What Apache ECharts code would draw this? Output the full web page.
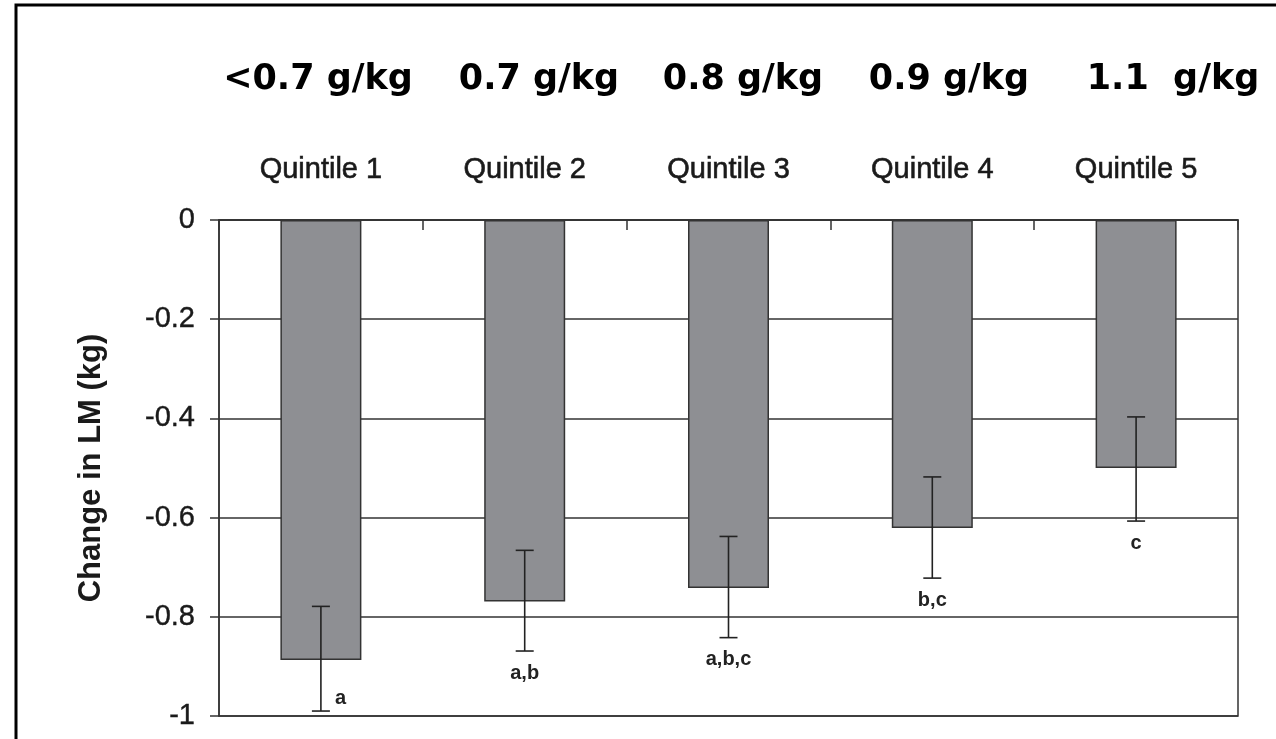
<!DOCTYPE html>
<html><head><meta charset="utf-8">
<script src="https://cdn.jsdelivr.net/npm/echarts@6/dist/echarts.min.js"></script>
<style>html,body{margin:0;padding:0;background:#fff}#c{width:1276px;height:739px}</style>
</head><body><div id="c"></div>
<script>
// ---- data ----
const quintiles = ['Quintile 1', 'Quintile 2', 'Quintile 3', 'Quintile 4', 'Quintile 5'];
const doseLabels = ['<0.7 g/kg', '0.7 g/kg', '0.8 g/kg', '0.9 g/kg', '1.1  g/kg'];
const meanChange = [-0.887, -0.769, -0.742, -0.621, -0.500];
const errorUpper = [-0.779, -0.666, -0.638, -0.518, -0.397];
const errorLower = [-0.990, -0.869, -0.842, -0.722, -0.607];
const sigLetters = ['a', 'a,b', 'a,b,c', 'b,c', 'c'];

// ---- layout (not data) ----
const doseLabelX = [318, 539, 743, 949, 1173];
const INK = '#1a1a1a';
const LINE = '#333333';

const chart = echarts.init(document.getElementById('c'), null, {renderer: 'canvas'});

const errData = quintiles.map((q, i) => [i, errorUpper[i], errorLower[i]]);

const option = {
  animation: false,
  backgroundColor: '#ffffff',
  grid: {left: 219, right: 38, top: 220, bottom: 23, show: true, borderColor: LINE, borderWidth: 1.5, backgroundColor: 'transparent'},
  xAxis: {
    type: 'category', data: quintiles, position: 'top', boundaryGap: true,
    axisLine: {show: true, lineStyle: {color: LINE, width: 1.5}},
    axisTick: {show: true, inside: true, length: 10, lineStyle: {color: LINE, width: 1.5}},
    axisLabel: {fontSize: 29, fontFamily: 'Liberation Sans, Arial, sans-serif', color: INK, margin: 36,
      textBorderColor: INK, textBorderWidth: 0.6},
    splitLine: {show: false}
  },
  yAxis: {
    type: 'value', min: -1, max: 0, interval: 0.2,
    name: 'Change in LM (kg)', nameLocation: 'middle', nameRotate: 90, nameGap: 112,
    nameTextStyle: {fontSize: 31, fontWeight: 'bold', fontFamily: 'Liberation Sans, Arial, sans-serif', color: INK},
    axisLine: {show: true, lineStyle: {color: LINE, width: 1.5}},
    axisTick: {show: true, inside: false, length: 9, lineStyle: {color: LINE, width: 1.5}},
    axisLabel: {fontSize: 29, fontFamily: 'Liberation Sans, Arial, sans-serif', color: INK, margin: 24,
      textBorderColor: INK, textBorderWidth: 0.4},
    splitLine: {show: true, lineStyle: {color: LINE, width: 1.5}}
  },
  series: [
    {
      type: 'bar', data: meanChange, barWidth: 81,
      itemStyle: {color: '#8e8f93', borderColor: LINE, borderWidth: 1.5},
      z: 3
    },
    {
      type: 'custom', data: errData, z: 5,
      renderItem: function (params, api) {
        const i = api.value(0);
        const hi = api.coord([i, api.value(1)]);
        const lo = api.coord([i, api.value(2)]);
        const x = hi[0];
        const cap = 9;
        const bottom = params.coordSys.y + params.coordSys.height;
        let tx = x, ty = lo[1] + 22, align = 'center';
        if (ty + 8 > bottom) { tx = x + 14; ty = lo[1] - 13; align = 'left'; }
        const st = {stroke: '#222', lineWidth: 1.6};
        return {
          type: 'group', children: [
            {type: 'line', shape: {x1: x, y1: hi[1], x2: x, y2: lo[1]}, style: st},
            {type: 'line', shape: {x1: x - cap, y1: hi[1], x2: x + cap, y2: hi[1]}, style: st},
            {type: 'line', shape: {x1: x - cap, y1: lo[1], x2: x + cap, y2: lo[1]}, style: st},
            {type: 'text', style: {text: sigLetters[i], x: tx, y: ty, align: align, verticalAlign: 'middle',
              font: 'bold 20px "Liberation Sans", Arial, sans-serif', fill: '#222'}}
          ]
        };
      }
    }
  ],
  graphic: [
    {type: 'rect', shape: {x: 16, y: 5, width: 1300, height: 800}, style: {fill: null, stroke: '#000', lineWidth: 3}, z: 100}
  ].concat(doseLabels.map((t, i) => ({
    type: 'text', x: doseLabelX[i], y: 80,
    style: {text: t, align: 'center', verticalAlign: 'middle', font: 'bold 35px "DejaVu Sans", sans-serif', fill: '#000'}
  })))
};
chart.setOption(option);
</script>
</body></html>
